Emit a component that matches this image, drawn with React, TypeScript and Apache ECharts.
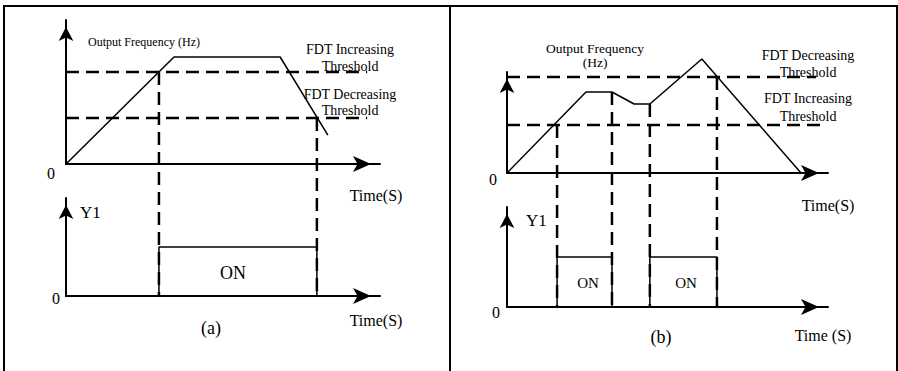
import React, { useEffect, useRef } from "react";
import * as echarts from "echarts";

// ---------- Panel (a) ----------
const aFreqTime = [0, 34.4, 68.2, 83.4];
const aFreqValue = [0, 74.3, 74.3, 20.1];
const aIncThreshold = 63.9;
const aDecThreshold = 31.9;
const aThresholdEnd = 95.9;
const aSwitchTimes = [29.6, 79.9];
const aSwitchLevels = [63.9, 31.9];
const aOnStart = [29.6];
const aOnEnd = [79.9];

// ---------- Panel (b) ----------
const bFreqTime = [0, 24.6, 32.7, 39.6, 44.5, 60.7, 91.6];
const bFreqValue = [0, 80.2, 80.2, 68.3, 68.3, 112.9, 0];
const bDecThreshold = 95.0;
const bIncThreshold = 47.5;
const bDecEnd = 96.3;
const bIncEnd = 97.5;
const bSwitchTimes = [15.6, 32.7, 44.5, 65.4];
const bSwitchLevels = [47.5, 80.2, 68.3, 95.0];
const bOnStart = [15.6, 44.5];
const bOnEnd = [32.7, 65.4];

const onLevel = 1;
const timeMax = 100;
const freqMax = 100;
const y1Max = 2;

const FONT = '"Liberation Serif", "Times New Roman", serif';
const DASH = [13, 7];

function zip(xs: number[], ys: number[]) {
  return xs.map((x, i) => [x, ys[i]]);
}

function onBox(starts: number[], ends: number[]) {
  const out: (number[] | null)[] = [];
  starts.forEach((s, i) => {
    if (i > 0) out.push(null);
    out.push([s, 0], [s, onLevel], [ends[i], onLevel], [ends[i], 0]);
  });
  return out;
}

function axis(max: number, isX: boolean, gridIndex: number) {
  return {
    type: "value",
    gridIndex,
    min: 0,
    max,
    axisLine: {
      show: true,
      onZero: true,
      symbol: ["none", "arrow"],
      symbolSize: isX ? [12, 18] : [11, 14],
      symbolOffset: isX ? [0, -9] : [0, -7],
      lineStyle: { color: "#000", width: 2 },
    },
    axisTick: { show: false },
    axisLabel: { show: false },
    splitLine: { show: false },
  };
}

function solid(data: any[], xi: number, w = 1.5) {
  return {
    type: "line",
    xAxisIndex: xi,
    yAxisIndex: xi,
    data,
    symbol: "none",
    clip: false,
    silent: true,
    connectNulls: false,
    lineStyle: { color: "#000", width: w },
  };
}

function dashed(data: any[], xi: number) {
  return {
    type: "line",
    xAxisIndex: xi,
    yAxisIndex: xi,
    data,
    symbol: "none",
    clip: false,
    silent: true,
    lineStyle: { color: "#000", width: 2.5, type: DASH },
  };
}

type Lbl = { text: string; x: number; y: number; size: number; align?: string; lh?: number };

const labels: Lbl[] = [
  { text: "Output Frequency (Hz)", x: 88, y: 42, size: 12, align: "left" },
  { text: "FDT Increasing\nThreshold", x: 350, y: 57.5, size: 14, lh: 17 },
  { text: "FDT Decreasing\nThreshold", x: 350, y: 102, size: 14, lh: 16 },
  { text: "0", x: 51, y: 173, size: 16 },
  { text: "Time(S)", x: 376, y: 195, size: 16 },
  { text: "Y1", x: 80, y: 212, size: 17, align: "left" },
  { text: "0", x: 56, y: 298, size: 16 },
  { text: "ON", x: 233, y: 273, size: 18 },
  { text: "Time(S)", x: 376, y: 320, size: 16 },
  { text: "(a)", x: 211, y: 328, size: 18 },
  { text: "Output Frequency\n(Hz)", x: 595, y: 55.5, size: 13.5, lh: 14 },
  { text: "FDT Decreasing\nThreshold", x: 808, y: 63.5, size: 14, lh: 17 },
  { text: "FDT Increasing\nThreshold", x: 808, y: 107.5, size: 14, lh: 18 },
  { text: "0", x: 493, y: 179, size: 16 },
  { text: "Time(S)", x: 828, y: 205, size: 16 },
  { text: "Y1", x: 526, y: 220, size: 17, align: "left" },
  { text: "0", x: 496, y: 312, size: 16 },
  { text: "ON", x: 588, y: 283, size: 15 },
  { text: "ON", x: 686, y: 283, size: 15 },
  { text: "Time (S)", x: 823, y: 335, size: 16 },
  { text: "(b)", x: 661, y: 337, size: 18 },
];

export default function App() {
  const ref = useRef<HTMLDivElement>(null);

  useEffect(() => {
    document.body.style.margin = "0";
    const chart = echarts.init(ref.current!, undefined, { renderer: "svg" });

    const option: any = {
      animation: false,
      backgroundColor: "#fff",
      grid: [
        { left: 66, top: 20, width: 314, height: 144 },
        { left: 66, top: 198, width: 314, height: 98 },
        { left: 507, top: 72, width: 321, height: 101 },
        { left: 507, top: 207, width: 321, height: 100 },
      ],
      xAxis: [axis(timeMax, true, 0), axis(timeMax, true, 1), axis(timeMax, true, 2), axis(timeMax, true, 3)],
      yAxis: [axis(freqMax, false, 0), axis(y1Max, false, 1), axis(freqMax, false, 2), axis(y1Max, false, 3)],
      series: [
        solid(zip(aFreqTime, aFreqValue), 0),
        dashed([[0, aIncThreshold], [aThresholdEnd, aIncThreshold]], 0),
        dashed([[0, aDecThreshold], [aThresholdEnd, aDecThreshold]], 0),
        solid(onBox(aOnStart, aOnEnd), 1),
        solid(zip(bFreqTime, bFreqValue), 2),
        dashed([[0, bDecThreshold], [bDecEnd, bDecThreshold]], 2),
        dashed([[0, bIncThreshold], [bIncEnd, bIncThreshold]], 2),
        solid(onBox(bOnStart, bOnEnd), 3),
      ],
    };
    chart.setOption(option);

    const connectors: any[] = [];
    const addConn = (times: number[], levels: number[], topGrid: number, botGrid: number) => {
      times.forEach((t, i) => {
        const p1 = chart.convertToPixel({ xAxisIndex: topGrid, yAxisIndex: topGrid }, [t, levels[i]]) as number[];
        const p2 = chart.convertToPixel({ xAxisIndex: botGrid, yAxisIndex: botGrid }, [t, 0]) as number[];
        connectors.push({
          type: "line",
          silent: true,
          z: 10,
          shape: { x1: p1[0], y1: p1[1], x2: p1[0], y2: p2[1] },
          style: { stroke: "#000", lineWidth: 2.5, lineDash: DASH },
        });
      });
    };
    addConn(aSwitchTimes, aSwitchLevels, 0, 1);
    addConn(bSwitchTimes, bSwitchLevels, 2, 3);

    const texts = labels.map((l) => ({
      type: "text",
      silent: true,
      z: 20,
      x: l.x,
      y: l.y,
      style: {
        text: l.text,
        fill: "#000",
        font: `${l.size}px ${FONT}`,
        fontSize: l.size,
        fontFamily: FONT,
        textAlign: l.align || "center",
        align: l.align || "center",
        textVerticalAlign: "middle",
        verticalAlign: "middle",
        lineHeight: l.lh || l.size * 1.2,
      },
    }));

    const borders = [
      { type: "rect", silent: true, shape: { x: 4, y: 6, width: 446, height: 380 }, style: { fill: "none", stroke: "#000", lineWidth: 2 } },
      { type: "rect", silent: true, shape: { x: 450, y: 6, width: 447, height: 380 }, style: { fill: "none", stroke: "#000", lineWidth: 2 } },
    ];

    chart.setOption({ graphic: [...borders, ...connectors, ...texts] });

    return () => chart.dispose();
  }, []);

  return <div ref={ref} style={{ position: "absolute", left: 0, top: 0, width: 898, height: 371 }} />;
}
